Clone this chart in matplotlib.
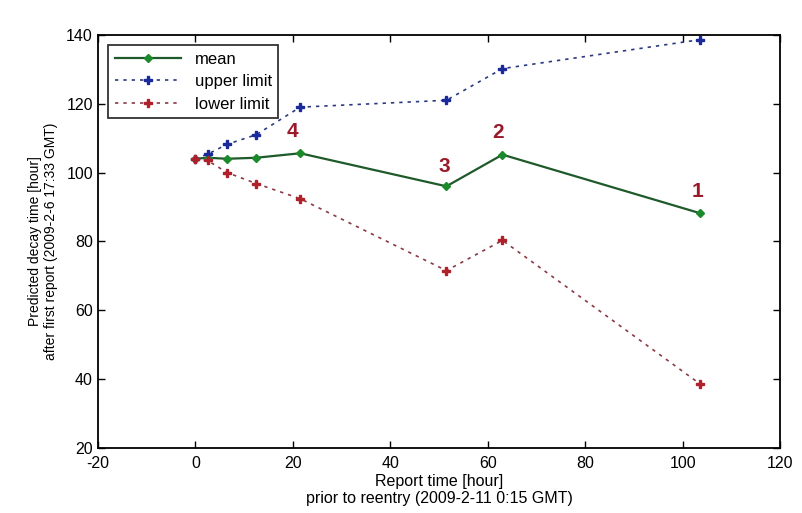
import matplotlib.pyplot as plt

# report times [hour] and predicted decay times [hour]
report_time = [0, 2.5, 6.5, 12.5, 21.5, 51.5, 63, 103.5]
mean_vals = [104, 104.3, 104, 104.3, 105.6, 96, 105.2, 88.2]
upper_vals = [104, 105.3, 108.2, 111, 119, 121, 130.2, 138.6]
lower_vals = [104, 103.5, 100, 96.8, 92.4, 71.5, 80.3, 38.6]

# numbered annotations on the mean curve
label_text = ["4", "3", "2", "1"]
label_x = [20, 51, 62, 103]
label_y = [112, 101.7, 111.6, 94.4]

plt.rcParams["font.family"] = ["Liberation Sans", "DejaVu Sans"]
plt.rcParams["axes.unicode_minus"] = False

fig = plt.figure(figsize=(8.02, 5.13), dpi=100)
ax = fig.add_axes([0.122, 0.127, 0.851, 0.805])

ax.plot(report_time, mean_vals, color="#1f5a2a", linewidth=1.6,
        marker="D", markersize=4.5, markerfacecolor="#1a8a2a",
        markeredgecolor="#1a8a2a", label="mean")
ax.plot(report_time, upper_vals, color="#2a3a80", linewidth=1.2,
        linestyle=(0, (2, 3)), marker="P", markersize=6,
        markerfacecolor="#1a2a9a", markeredgecolor="#1a2a9a",
        label="upper limit")
ax.plot(report_time, lower_vals, color="#8a3a45", linewidth=1.2,
        linestyle=(0, (2, 3)), marker="P", markersize=6,
        markerfacecolor="#b0202a", markeredgecolor="#b0202a",
        label="lower limit")

for t, x, y in zip(label_text, label_x, label_y):
    ax.text(x, y, t, color="#9a1a2a", fontsize=15, fontweight="bold",
            ha="center", va="center")

ax.set_xlim(-20, 120)
ax.set_ylim(20, 140)
ax.set_xticks(range(-20, 121, 20))
ax.set_yticks(range(20, 141, 20))
ax.tick_params(direction="in", top=True, right=True, labelsize=11.5,
               length=5, width=1)
ax.tick_params(axis="x", pad=6)
for s in ax.spines.values():
    s.set_linewidth(1.3)

ax.set_xlabel("Report time [hour]\nprior to reentry (2009-2-11 0:15 GMT)",
              fontsize=11.5, labelpad=2)
ax.set_ylabel("Predicted decay time [hour]\nafter first report (2009-2-6 17:33 GMT)",
              fontsize=10, labelpad=6)

leg = ax.legend(loc="upper left", fontsize=12, frameon=True,
                fancybox=False, edgecolor="black", borderaxespad=0.6,
                handlelength=4.0, borderpad=0.4, labelspacing=0.45,
                numpoints=1)
leg.get_frame().set_linewidth(1.3)

fig.savefig("out.png", dpi=100)
